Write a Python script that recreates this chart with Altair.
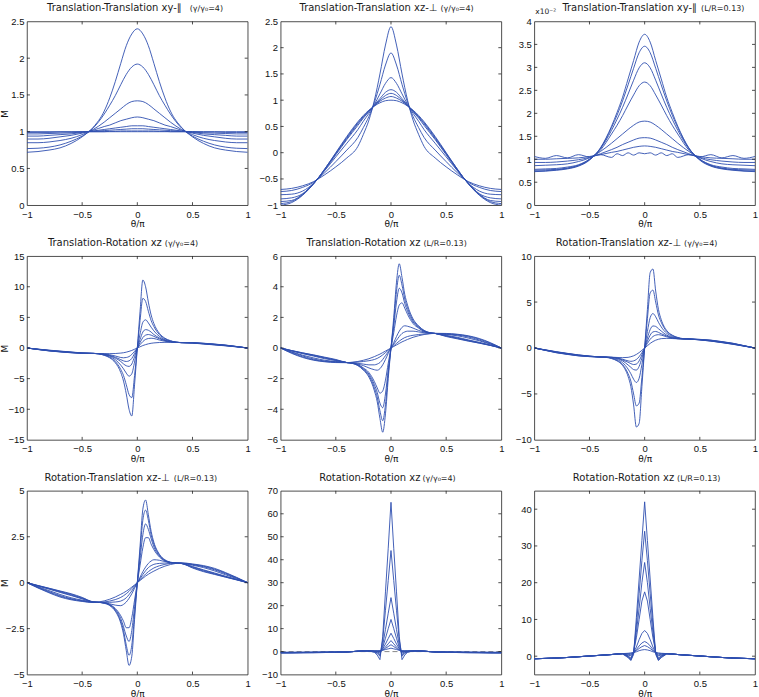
import altair as alt
import pandas as pd

BLUE = "#2f4fb0"
FRAME = "#222222"

# shared x grids (theta/pi)
XS = [-1, -0.9, -0.8, -0.7, -0.6, -0.5, -0.4, -0.3, -0.25, -0.2, -0.15, -0.1, -0.05, 0,
      0.05, 0.1, 0.15, 0.2, 0.25, 0.3, 0.4, 0.5, 0.6, 0.7, 0.8, 0.9, 1]
XF = [-1, -0.9, -0.8, -0.7, -0.6, -0.5, -0.4, -0.35, -0.3, -0.25, -0.2, -0.15, -0.125, -0.1,
      -0.075, -0.05, -0.025, 0, 0.025, 0.05, 0.075, 0.1, 0.125, 0.15, 0.2, 0.25, 0.3, 0.35,
      0.4, 0.5, 0.6, 0.7, 0.8, 0.9, 1]
X_TICKS = [-1, -0.5, 0, 0.5, 1]

# Panel 1: Translation-Translation xy-par (gamma)
P1 = [
    [0.72, 0.73, 0.75, 0.78, 0.84, 0.93, 1.06, 1.28, 1.46, 1.68, 1.93, 2.17, 2.33, 2.4, 2.33, 2.17, 1.93, 1.68, 1.46, 1.28, 1.06, 0.93, 0.84, 0.78, 0.75, 0.73, 0.72],
    [0.77, 0.775, 0.79, 0.82, 0.87, 0.94, 1.05, 1.24, 1.36, 1.49, 1.64, 1.78, 1.88, 1.92, 1.88, 1.78, 1.64, 1.49, 1.36, 1.24, 1.05, 0.94, 0.87, 0.82, 0.79, 0.775, 0.77],
    [0.85, 0.85, 0.86, 0.88, 0.91, 0.96, 1.03, 1.13, 1.19, 1.25, 1.31, 1.37, 1.41, 1.42, 1.41, 1.37, 1.31, 1.25, 1.19, 1.13, 1.03, 0.96, 0.91, 0.88, 0.86, 0.85, 0.85],
    [0.9, 0.9, 0.91, 0.93, 0.95, 0.98, 1.02, 1.07, 1.09, 1.12, 1.15, 1.17, 1.19, 1.2, 1.19, 1.17, 1.15, 1.12, 1.09, 1.07, 1.02, 0.98, 0.95, 0.93, 0.91, 0.9, 0.9],
    [0.94, 0.94, 0.95, 0.96, 0.97, 0.99, 1.01, 1.03, 1.04, 1.05, 1.06, 1.07, 1.08, 1.08, 1.08, 1.07, 1.06, 1.05, 1.04, 1.03, 1.01, 0.99, 0.97, 0.96, 0.95, 0.94, 0.94],
    [0.97, 0.97, 0.975, 0.98, 0.985, 0.995, 1.005, 1.015, 1.02, 1.025, 1.03, 1.035, 1.04, 1.04, 1.04, 1.035, 1.03, 1.025, 1.02, 1.015, 1.005, 0.995, 0.985, 0.98, 0.975, 0.97, 0.97],
    [0.99, 0.99, 0.99, 0.995, 0.995, 1.0, 1.0, 1.0, 1.005, 1.005, 1.01, 1.01, 1.01, 1.01, 1.01, 1.01, 1.01, 1.005, 1.005, 1.0, 1.0, 1.0, 0.995, 0.995, 0.99, 0.99, 0.99],
    [1.0, 1.0, 1.0, 1.0, 1.0, 1.0, 1.0, 1.0, 1.0, 1.0, 1.0, 1.0, 1.0, 1.0, 1.0, 1.0, 1.0, 1.0, 1.0, 1.0, 1.0, 1.0, 1.0, 1.0, 1.0, 1.0, 1.0],
]
P1_YTICKS = [0, 0.5, 1, 1.5, 2, 2.5]

# Panel 2: Translation-Translation xz-perp (gamma)
P2 = [
    [-0.7, -0.68, -0.63, -0.55, -0.42, -0.27, -0.1, 0.12, 0.35, 0.62, 1.0, 1.5, 2.05, 2.4, 2.05, 1.5, 1.0, 0.62, 0.35, 0.12, -0.1, -0.27, -0.42, -0.55, -0.63, -0.68, -0.7],
    [-0.74, -0.72, -0.66, -0.56, -0.38, -0.17, 0.05, 0.29, 0.48, 0.69, 0.96, 1.3, 1.67, 1.9, 1.67, 1.3, 0.96, 0.69, 0.48, 0.29, 0.05, -0.17, -0.38, -0.56, -0.66, -0.72, -0.74],
    [-0.8, -0.79, -0.73, -0.58, -0.34, -0.08, 0.18, 0.44, 0.6, 0.75, 0.92, 1.12, 1.32, 1.43, 1.32, 1.12, 0.92, 0.75, 0.6, 0.44, 0.18, -0.08, -0.34, -0.58, -0.73, -0.79, -0.8],
    [-0.88, -0.86, -0.78, -0.58, -0.33, -0.04, 0.25, 0.52, 0.66, 0.78, 0.91, 1.03, 1.15, 1.2, 1.15, 1.03, 0.91, 0.78, 0.66, 0.52, 0.25, -0.04, -0.33, -0.58, -0.78, -0.86, -0.88],
    [-0.93, -0.91, -0.79, -0.59, -0.32, -0.02, 0.27, 0.55, 0.68, 0.79, 0.9, 1.0, 1.09, 1.13, 1.09, 1.0, 0.9, 0.79, 0.68, 0.55, 0.27, -0.02, -0.32, -0.59, -0.79, -0.91, -0.93],
    [-0.97, -0.93, -0.8, -0.59, -0.31, -0.01, 0.29, 0.57, 0.69, 0.8, 0.89, 0.98, 1.04, 1.07, 1.04, 0.98, 0.89, 0.8, 0.69, 0.57, 0.29, -0.01, -0.31, -0.59, -0.8, -0.93, -0.97],
    [-1.0, -0.95, -0.81, -0.59, -0.31, 0.0, 0.31, 0.59, 0.71, 0.81, 0.89, 0.95, 0.99, 1.0, 0.99, 0.95, 0.89, 0.81, 0.71, 0.59, 0.31, 0.0, -0.31, -0.59, -0.81, -0.95, -1.0],
]
P2_YTICKS = [-1, -0.5, 0, 0.5, 1, 1.5, 2, 2.5]

# Panel 3: Translation-Translation xy-par (L/R), units of 1e-2
P3 = [
    [0.73, 0.74, 0.76, 0.79, 0.85, 0.98, 1.25, 1.72, 2.02, 2.35, 2.75, 3.15, 3.55, 3.72, 3.55, 3.15, 2.75, 2.35, 2.02, 1.72, 1.25, 0.98, 0.85, 0.79, 0.76, 0.74, 0.73],
    [0.74, 0.75, 0.77, 0.8, 0.86, 0.99, 1.24, 1.69, 1.96, 2.27, 2.62, 2.98, 3.32, 3.46, 3.32, 2.98, 2.62, 2.27, 1.96, 1.69, 1.24, 0.99, 0.86, 0.8, 0.77, 0.75, 0.74],
    [0.76, 0.77, 0.78, 0.81, 0.87, 1.0, 1.23, 1.63, 1.87, 2.13, 2.42, 2.72, 2.99, 3.1, 2.99, 2.72, 2.42, 2.13, 1.87, 1.63, 1.23, 1.0, 0.87, 0.81, 0.78, 0.77, 0.76],
    [0.78, 0.79, 0.8, 0.83, 0.88, 1.0, 1.2, 1.55, 1.74, 1.95, 2.18, 2.4, 2.6, 2.68, 2.6, 2.4, 2.18, 1.95, 1.74, 1.55, 1.2, 1.0, 0.88, 0.83, 0.8, 0.79, 0.78],
    [0.86, 0.87, 0.88, 0.9, 0.95, 1.03, 1.17, 1.35, 1.45, 1.55, 1.65, 1.74, 1.81, 1.83, 1.81, 1.74, 1.65, 1.55, 1.45, 1.35, 1.17, 1.03, 0.95, 0.9, 0.88, 0.87, 0.86],
    [0.93, 0.93, 0.94, 0.96, 0.99, 1.04, 1.12, 1.21, 1.26, 1.32, 1.37, 1.42, 1.46, 1.47, 1.46, 1.42, 1.37, 1.32, 1.26, 1.21, 1.12, 1.04, 0.99, 0.96, 0.94, 0.93, 0.93],
    [1.0, 1.0, 1.01, 1.02, 1.03, 1.06, 1.1, 1.15, 1.17, 1.2, 1.23, 1.26, 1.28, 1.29, 1.28, 1.26, 1.23, 1.2, 1.17, 1.15, 1.1, 1.06, 1.03, 1.02, 1.01, 1.0, 1.0],
    [1.06, 1.02, 1.08, 1.03, 1.1, 1.05, 1.1, 1.04, 1.12, 1.08, 1.14, 1.09, 1.14, 1.12, 1.14, 1.09, 1.14, 1.08, 1.12, 1.04, 1.1, 1.05, 1.1, 1.03, 1.08, 1.02, 1.06],
]
P3_YTICKS = [0, 0.5, 1, 1.5, 2, 2.5, 3, 3.5, 4]

# Panel 4: Translation-Rotation xz (gamma)
P4 = [
    [0, -0.18, -0.35, -0.5, -0.65, -0.8, -0.88, -0.95, -1.2, -1.6, -2.4, -4.0, -5.4, -7.5, -10.0, -11.1, -6.0, 0, 6.0, 11.1, 10.0, 7.5, 5.4, 4.0, 2.4, 1.6, 1.2, 0.95, 0.88, 0.8, 0.65, 0.5, 0.35, 0.18, 0],
    [0, -0.2, -0.38, -0.53, -0.68, -0.82, -0.88, -0.95, -1.15, -1.5, -2.2, -3.5, -4.5, -6.0, -7.6, -8.1, -4.5, 0, 4.5, 8.1, 7.6, 6.0, 4.5, 3.5, 2.2, 1.5, 1.15, 0.95, 0.88, 0.82, 0.68, 0.53, 0.38, 0.2, 0],
    [0, -0.21, -0.4, -0.56, -0.7, -0.83, -0.88, -0.95, -1.1, -1.35, -1.9, -2.8, -3.4, -4.1, -4.6, -4.2, -2.3, 0, 2.3, 4.2, 4.6, 4.1, 3.4, 2.8, 1.9, 1.35, 1.1, 0.95, 0.88, 0.83, 0.7, 0.56, 0.4, 0.21, 0],
    [0, -0.22, -0.42, -0.58, -0.72, -0.84, -0.88, -0.93, -1.05, -1.25, -1.65, -2.2, -2.6, -2.9, -3.0, -2.6, -1.4, 0, 1.4, 2.6, 3.0, 2.9, 2.6, 2.2, 1.65, 1.25, 1.05, 0.93, 0.88, 0.84, 0.72, 0.58, 0.42, 0.22, 0],
    [0, -0.23, -0.44, -0.6, -0.74, -0.85, -0.88, -0.92, -1.0, -1.2, -1.5, -1.9, -2.1, -2.2, -2.1, -1.7, -0.9, 0, 0.9, 1.7, 2.1, 2.2, 2.1, 1.9, 1.5, 1.2, 1.0, 0.92, 0.88, 0.85, 0.74, 0.6, 0.44, 0.23, 0],
    [0, -0.24, -0.46, -0.62, -0.76, -0.86, -0.88, -0.91, -0.97, -1.1, -1.3, -1.55, -1.6, -1.55, -1.4, -1.05, -0.55, 0, 0.55, 1.05, 1.4, 1.55, 1.6, 1.55, 1.3, 1.1, 0.97, 0.91, 0.88, 0.86, 0.76, 0.62, 0.46, 0.24, 0],
    [0, -0.25, -0.48, -0.64, -0.78, -0.88, -0.9, -0.91, -0.92, -0.92, -0.9, -0.83, -0.77, -0.68, -0.55, -0.4, -0.2, 0, 0.2, 0.4, 0.55, 0.68, 0.77, 0.83, 0.9, 0.92, 0.92, 0.91, 0.9, 0.88, 0.78, 0.64, 0.48, 0.25, 0],
]
P4_YTICKS = [-15, -10, -5, 0, 5, 10, 15]

# Panel 5: Translation-Rotation xz (L/R)
P5 = [
    [0, -0.17, -0.32, -0.45, -0.6, -0.75, -0.95, -1.0, -1.15, -1.45, -1.9, -2.8, -3.5, -4.6, -5.5, -4.3, -2.0, 0, 2.0, 4.3, 5.5, 4.6, 3.5, 2.8, 1.9, 1.45, 1.15, 1.0, 0.95, 0.75, 0.6, 0.45, 0.32, 0.17, 0],
    [0, -0.17, -0.32, -0.47, -0.63, -0.78, -0.95, -1.0, -1.13, -1.4, -1.8, -2.6, -3.2, -4.1, -4.75, -3.7, -1.7, 0, 1.7, 3.7, 4.75, 4.1, 3.2, 2.6, 1.8, 1.4, 1.13, 1.0, 0.95, 0.78, 0.63, 0.47, 0.32, 0.17, 0],
    [0, -0.18, -0.35, -0.5, -0.66, -0.8, -0.95, -1.0, -1.1, -1.35, -1.7, -2.4, -2.9, -3.6, -3.9, -3.0, -1.4, 0, 1.4, 3.0, 3.9, 3.6, 2.9, 2.4, 1.7, 1.35, 1.1, 1.0, 0.95, 0.8, 0.66, 0.5, 0.35, 0.18, 0],
    [0, -0.19, -0.37, -0.53, -0.7, -0.82, -0.95, -0.98, -1.08, -1.3, -1.6, -2.2, -2.6, -2.95, -2.8, -2.1, -1.0, 0, 1.0, 2.1, 2.8, 2.95, 2.6, 2.2, 1.6, 1.3, 1.08, 0.98, 0.95, 0.82, 0.7, 0.53, 0.37, 0.19, 0],
    [0, -0.25, -0.47, -0.65, -0.8, -0.88, -0.95, -0.98, -1.05, -1.15, -1.3, -1.42, -1.45, -1.35, -1.1, -0.75, -0.35, 0, 0.35, 0.75, 1.1, 1.35, 1.45, 1.42, 1.3, 1.15, 1.05, 0.98, 0.95, 0.88, 0.8, 0.65, 0.47, 0.25, 0],
    [0, -0.28, -0.52, -0.72, -0.85, -0.9, -0.95, -0.97, -1.0, -1.05, -1.1, -1.1, -1.05, -0.95, -0.75, -0.5, -0.25, 0, 0.25, 0.5, 0.75, 0.95, 1.05, 1.1, 1.1, 1.05, 1.0, 0.97, 0.95, 0.9, 0.85, 0.72, 0.52, 0.28, 0],
    [0, -0.32, -0.58, -0.77, -0.88, -0.93, -0.95, -0.94, -0.92, -0.88, -0.83, -0.75, -0.68, -0.58, -0.45, -0.3, -0.15, 0, 0.15, 0.3, 0.45, 0.58, 0.68, 0.75, 0.83, 0.88, 0.92, 0.94, 0.95, 0.93, 0.88, 0.77, 0.58, 0.32, 0],
    [0, -0.35, -0.62, -0.8, -0.9, -0.95, -0.96, -0.93, -0.88, -0.8, -0.7, -0.56, -0.48, -0.4, -0.3, -0.2, -0.1, 0, 0.1, 0.2, 0.3, 0.4, 0.48, 0.56, 0.7, 0.8, 0.88, 0.93, 0.96, 0.95, 0.9, 0.8, 0.62, 0.35, 0],
]
P5_YTICKS = [-6, -4, -2, 0, 2, 4, 6]

# Panel 6: Rotation-Translation xz-perp (gamma)
P6 = [
    [0, -0.2, -0.4, -0.58, -0.75, -0.88, -0.98, -1.02, -1.15, -1.4, -1.9, -3.1, -4.2, -6.2, -8.6, -8.2, -4.2, 0, 4.2, 8.2, 8.6, 6.2, 4.2, 3.1, 1.9, 1.4, 1.15, 1.02, 0.98, 0.88, 0.75, 0.58, 0.4, 0.2, 0],
    [0, -0.21, -0.42, -0.6, -0.76, -0.88, -0.98, -1.0, -1.12, -1.35, -1.8, -2.8, -3.6, -5.0, -6.3, -6.0, -3.2, 0, 3.2, 6.0, 6.3, 5.0, 3.6, 2.8, 1.8, 1.35, 1.12, 1.0, 0.98, 0.88, 0.76, 0.6, 0.42, 0.21, 0],
    [0, -0.22, -0.44, -0.62, -0.78, -0.9, -0.98, -1.0, -1.08, -1.25, -1.6, -2.3, -2.8, -3.4, -3.75, -3.3, -1.8, 0, 1.8, 3.3, 3.75, 3.4, 2.8, 2.3, 1.6, 1.25, 1.08, 1.0, 0.98, 0.9, 0.78, 0.62, 0.44, 0.22, 0],
    [0, -0.23, -0.46, -0.64, -0.8, -0.91, -0.98, -0.99, -1.04, -1.15, -1.4, -1.85, -2.1, -2.35, -2.4, -2.0, -1.1, 0, 1.1, 2.0, 2.4, 2.35, 2.1, 1.85, 1.4, 1.15, 1.04, 0.99, 0.98, 0.91, 0.8, 0.64, 0.46, 0.23, 0],
    [0, -0.24, -0.48, -0.66, -0.82, -0.92, -0.98, -0.99, -1.02, -1.1, -1.3, -1.55, -1.7, -1.8, -1.75, -1.4, -0.75, 0, 0.75, 1.4, 1.75, 1.8, 1.7, 1.55, 1.3, 1.1, 1.02, 0.99, 0.98, 0.92, 0.82, 0.66, 0.48, 0.24, 0],
    [0, -0.25, -0.5, -0.68, -0.84, -0.93, -0.98, -0.99, -1.01, -1.08, -1.22, -1.4, -1.45, -1.4, -1.25, -0.95, -0.5, 0, 0.5, 0.95, 1.25, 1.4, 1.45, 1.4, 1.22, 1.08, 1.01, 0.99, 0.98, 0.93, 0.84, 0.68, 0.5, 0.25, 0],
    [0, -0.26, -0.52, -0.7, -0.86, -0.94, -0.98, -0.99, -1.0, -1.03, -1.05, -1.02, -0.95, -0.85, -0.7, -0.5, -0.25, 0, 0.25, 0.5, 0.7, 0.85, 0.95, 1.02, 1.05, 1.03, 1.0, 0.99, 0.98, 0.94, 0.86, 0.7, 0.52, 0.26, 0],
]
P6_YTICKS = [-10, -5, 0, 5, 10]

# Panel 7: Rotation-Translation xz-perp (L/R)
P7 = [
    [0, -0.15, -0.3, -0.45, -0.6, -0.8, -1.05, -1.07, -1.12, -1.25, -1.55, -2.2, -2.8, -3.7, -4.5, -4.0, -2.0, 0, 2.0, 4.0, 4.5, 3.7, 2.8, 2.2, 1.55, 1.25, 1.12, 1.07, 1.05, 0.8, 0.6, 0.45, 0.3, 0.15, 0],
    [0, -0.16, -0.31, -0.47, -0.63, -0.83, -1.04, -1.07, -1.1, -1.22, -1.5, -2.1, -2.6, -3.4, -3.95, -3.4, -1.7, 0, 1.7, 3.4, 3.95, 3.4, 2.6, 2.1, 1.5, 1.22, 1.1, 1.07, 1.04, 0.83, 0.63, 0.47, 0.31, 0.16, 0],
    [0, -0.17, -0.33, -0.5, -0.67, -0.86, -1.05, -1.07, -1.1, -1.2, -1.45, -1.95, -2.4, -2.9, -3.2, -2.6, -1.3, 0, 1.3, 2.6, 3.2, 2.9, 2.4, 1.95, 1.45, 1.2, 1.1, 1.07, 1.05, 0.86, 0.67, 0.5, 0.33, 0.17, 0],
    [0, -0.18, -0.35, -0.53, -0.7, -0.88, -1.05, -1.07, -1.09, -1.18, -1.4, -1.8, -2.1, -2.45, -2.45, -1.9, -0.95, 0, 0.95, 1.9, 2.45, 2.45, 2.1, 1.8, 1.4, 1.18, 1.09, 1.07, 1.05, 0.88, 0.7, 0.53, 0.35, 0.18, 0],
    [0, -0.22, -0.43, -0.64, -0.82, -0.95, -1.05, -1.07, -1.1, -1.15, -1.22, -1.25, -1.18, -1.05, -0.85, -0.6, -0.3, 0, 0.3, 0.6, 0.85, 1.05, 1.18, 1.25, 1.22, 1.15, 1.1, 1.07, 1.05, 0.95, 0.82, 0.64, 0.43, 0.22, 0],
    [0, -0.25, -0.48, -0.7, -0.87, -0.98, -1.06, -1.07, -1.07, -1.07, -1.05, -1.0, -0.93, -0.82, -0.65, -0.45, -0.22, 0, 0.22, 0.45, 0.65, 0.82, 0.93, 1.0, 1.05, 1.07, 1.07, 1.07, 1.06, 0.98, 0.87, 0.7, 0.48, 0.25, 0],
    [0, -0.27, -0.52, -0.74, -0.9, -1.0, -1.07, -1.07, -1.05, -1.0, -0.92, -0.8, -0.71, -0.6, -0.47, -0.32, -0.16, 0, 0.16, 0.32, 0.47, 0.6, 0.71, 0.8, 0.92, 1.0, 1.05, 1.07, 1.07, 1.0, 0.9, 0.74, 0.52, 0.27, 0],
    [0, -0.29, -0.55, -0.78, -0.93, -1.02, -1.08, -1.05, -0.99, -0.9, -0.78, -0.63, -0.55, -0.46, -0.36, -0.24, -0.12, 0, 0.12, 0.24, 0.36, 0.46, 0.55, 0.63, 0.78, 0.9, 0.99, 1.05, 1.08, 1.02, 0.93, 0.78, 0.55, 0.29, 0],
]
P7_YTICKS = [-5, -2.5, 0, 2.5, 5]

# Panel 8: Rotation-Rotation xz (gamma)
P8 = [
    [-0.6, -0.6, -0.5, -0.5, -0.4, -0.3, -0.2, 0.0, 0.2, 0.4, 0.3, -0.3, -1.5, -3.5, 6.5, 26, 45, 65, 45, 26, 6.5, -3.5, -1.5, -0.3, 0.3, 0.4, 0.2, 0.0, -0.2, -0.3, -0.4, -0.5, -0.5, -0.6, -0.6],
    [-0.6, -0.55, -0.5, -0.45, -0.4, -0.3, -0.2, 0.0, 0.2, 0.35, 0.3, -0.2, -0.8, -2.0, 5, 18, 31, 44, 31, 18, 5, -2.0, -0.8, -0.2, 0.3, 0.35, 0.2, 0.0, -0.2, -0.3, -0.4, -0.45, -0.5, -0.55, -0.6],
    [-0.5, -0.5, -0.45, -0.4, -0.35, -0.3, -0.2, 0.0, 0.2, 0.3, 0.3, 0.0, -0.5, -1.3, 2.8, 9.6, 16.7, 23.5, 16.7, 9.6, 2.8, -1.3, -0.5, 0.0, 0.3, 0.3, 0.2, 0.0, -0.2, -0.3, -0.35, -0.4, -0.45, -0.5, -0.5],
    [-0.45, -0.45, -0.4, -0.35, -0.3, -0.25, -0.15, 0.0, 0.2, 0.3, 0.3, 0.1, -0.2, -0.6, 1.8, 5.8, 10, 14, 10, 5.8, 1.8, -0.6, -0.2, 0.1, 0.3, 0.3, 0.2, 0.0, -0.15, -0.25, -0.3, -0.35, -0.4, -0.45, -0.45],
    [-0.4, -0.4, -0.35, -0.3, -0.25, -0.2, -0.1, 0.0, 0.15, 0.25, 0.3, 0.2, 0.1, 0.0, 1.2, 3.3, 5.7, 8, 5.7, 3.3, 1.2, 0.0, 0.1, 0.2, 0.3, 0.25, 0.15, 0.0, -0.1, -0.2, -0.25, -0.3, -0.35, -0.4, -0.4],
    [-0.4, -0.35, -0.35, -0.3, -0.25, -0.2, -0.1, 0.0, 0.15, 0.25, 0.3, 0.25, 0.2, 0.2, 0.8, 2.0, 3.4, 4.8, 3.4, 2.0, 0.8, 0.2, 0.2, 0.25, 0.3, 0.25, 0.15, 0.0, -0.1, -0.2, -0.25, -0.3, -0.35, -0.35, -0.4],
    [-0.35, -0.35, -0.3, -0.3, -0.25, -0.2, -0.1, 0.0, 0.15, 0.25, 0.3, 0.3, 0.3, 0.3, 0.6, 1.4, 2.2, 3, 2.2, 1.4, 0.6, 0.3, 0.3, 0.3, 0.3, 0.25, 0.15, 0.0, -0.1, -0.2, -0.25, -0.3, -0.3, -0.35, -0.35],
    [-0.3, -0.3, -0.3, -0.3, -0.25, -0.2, -0.1, 0.0, 0.15, 0.25, 0.3, 0.3, 0.35, 0.4, 0.6, 0.9, 1.2, 1.5, 1.2, 0.9, 0.6, 0.4, 0.35, 0.3, 0.3, 0.25, 0.15, 0.0, -0.1, -0.2, -0.25, -0.3, -0.3, -0.3, -0.3],
]
P8_YTICKS = [-10, 0, 10, 20, 30, 40, 50, 60, 70]
P8_REF = [0]

# Panel 9: Rotation-Rotation xz (L/R)
P9 = [
    [-0.7, -0.6, -0.5, -0.35, -0.15, 0.05, 0.25, 0.35, 0.45, 0.55, 0.6, -0.4, -1.2, 0.5, 10.5, 21, 31.5, 42, 31.5, 21, 10.5, 0.5, -1.2, -0.4, 0.6, 0.55, 0.45, 0.35, 0.25, 0.05, -0.15, -0.35, -0.5, -0.6, -0.7],
    [-0.7, -0.6, -0.5, -0.35, -0.15, 0.05, 0.25, 0.35, 0.45, 0.55, 0.65, -0.2, -1.0, 0.8, 8.5, 17, 26, 34, 26, 17, 8.5, 0.8, -1.0, -0.2, 0.65, 0.55, 0.45, 0.35, 0.25, 0.05, -0.15, -0.35, -0.5, -0.6, -0.7],
    [-0.7, -0.6, -0.5, -0.35, -0.15, 0.05, 0.25, 0.35, 0.45, 0.6, 0.7, 0.0, -0.8, 1.0, 6.5, 13, 20, 25.5, 20, 13, 6.5, 1.0, -0.8, 0.0, 0.7, 0.6, 0.45, 0.35, 0.25, 0.05, -0.15, -0.35, -0.5, -0.6, -0.7],
    [-0.7, -0.6, -0.5, -0.35, -0.15, 0.05, 0.25, 0.35, 0.45, 0.6, 0.7, 0.1, -0.5, 1.2, 5, 10, 15, 17.5, 15, 10, 5, 1.2, -0.5, 0.1, 0.7, 0.6, 0.45, 0.35, 0.25, 0.05, -0.15, -0.35, -0.5, -0.6, -0.7],
    [-0.7, -0.6, -0.5, -0.35, -0.15, 0.05, 0.25, 0.35, 0.45, 0.6, 0.7, 0.3, 0.1, 1.0, 2.5, 4.5, 6.2, 7, 6.2, 4.5, 2.5, 1.0, 0.1, 0.3, 0.7, 0.6, 0.45, 0.35, 0.25, 0.05, -0.15, -0.35, -0.5, -0.6, -0.7],
    [-0.7, -0.6, -0.5, -0.35, -0.15, 0.05, 0.25, 0.35, 0.45, 0.6, 0.7, 0.5, 0.4, 1.0, 1.8, 2.8, 3.6, 4, 3.6, 2.8, 1.8, 1.0, 0.4, 0.5, 0.7, 0.6, 0.45, 0.35, 0.25, 0.05, -0.15, -0.35, -0.5, -0.6, -0.7],
    [-0.7, -0.6, -0.5, -0.35, -0.15, 0.05, 0.25, 0.35, 0.45, 0.6, 0.7, 0.7, 0.7, 1.0, 1.5, 2.1, 2.6, 2.9, 2.6, 2.1, 1.5, 1.0, 0.7, 0.7, 0.7, 0.6, 0.45, 0.35, 0.25, 0.05, -0.15, -0.35, -0.5, -0.6, -0.7],
    [-0.7, -0.6, -0.5, -0.35, -0.15, 0.05, 0.25, 0.35, 0.45, 0.6, 0.7, 0.8, 0.9, 1.0, 1.2, 1.5, 1.7, 1.8, 1.7, 1.5, 1.2, 1.0, 0.9, 0.8, 0.7, 0.6, 0.45, 0.35, 0.25, 0.05, -0.15, -0.35, -0.5, -0.6, -0.7],
]
P9_YTICKS = [0, 10, 20, 30, 40]

TITLES = [
    ("Translation-Translation xy-∥", "(γ/γ₀=4)"),
    ("Translation-Translation xz-⊥", "(γ/γ₀=4)"),
    ("Translation-Translation xy-∥", "(L/R=0.13)"),
    ("Translation-Rotation xz", "(γ/γ₀=4)"),
    ("Translation-Rotation xz", "(L/R=0.13)"),
    ("Rotation-Translation xz-⊥", "(γ/γ₀=4)"),
    ("Rotation-Translation xz-⊥", "(L/R=0.13)"),
    ("Rotation-Rotation xz", "(γ/γ₀=4)"),
    ("Rotation-Rotation xz", "(L/R=0.13)"),
]
EXPONENT_LABEL = "x10⁻²"

W, H = 221, 184
FMT = ".2~f"


def make_panel(xgrid, curves, ydom, yticks, title, main_end, param_start,
               ytitle=None, interp="monotone", prefix=None, ref=None):
    rows = []
    for i, c in enumerate(curves):
        if len(c) != len(xgrid):
            raise ValueError(f"{title[0]} curve {i}: {len(c)} vs {len(xgrid)}")
        for xv, yv in zip(xgrid, c):
            rows.append({"x": xv, "y": yv, "c": i})
    df = pd.DataFrame(rows)
    xsc = alt.Scale(domain=[-1, 1], nice=False, zero=False)
    ysc = alt.Scale(domain=ydom, nice=False, zero=False)
    xax = alt.Axis(values=X_TICKS, title="θ/π", format=FMT)
    if ytitle:
        yax = alt.Axis(values=yticks, title=ytitle, format=FMT, titleX=-17)
    else:
        yax = alt.Axis(values=yticks, title=None, format=FMT)
    X = alt.X("x:Q", scale=xsc, axis=xax)
    Y = alt.Y("y:Q", scale=ysc, axis=yax)

    layers = []
    if ref is not None:
        layers.append(
            alt.Chart(pd.DataFrame({"y": ref})).mark_rule(
                color="#888888", strokeDash=[5, 3], strokeWidth=1
            ).encode(y=Y)
        )
    layers.append(
        alt.Chart(df).mark_line(color=BLUE, strokeWidth=0.9, interpolate=interp, clip=True)
        .encode(x=X, y=Y, detail="c:N")
    )
    xt = pd.DataFrame({"x": X_TICKS[1:-1]})
    yt = pd.DataFrame({"y": [v for v in yticks if ydom[0] < v < ydom[1]]})
    tick = dict(color=FRAME, strokeWidth=0.8)
    layers += [
        alt.Chart(xt).mark_rule(**tick).encode(x=X, y=alt.value(H), y2=alt.value(H - 3)),
        alt.Chart(xt).mark_rule(**tick).encode(x=X, y=alt.value(0), y2=alt.value(3)),
        alt.Chart(yt).mark_rule(**tick).encode(y=Y, x=alt.value(0), x2=alt.value(3)),
        alt.Chart(yt).mark_rule(**tick).encode(y=Y, x=alt.value(W - 3), x2=alt.value(W)),
    ]
    layers.append(
        alt.Chart(pd.DataFrame({"t": [title[0]]})).mark_text(
            align="right", baseline="alphabetic", font="DejaVu Sans", fontSize=10, color="#1a1a1a"
        ).encode(x=alt.value(main_end), y=alt.value(-10), text="t:N")
    )
    layers.append(
        alt.Chart(pd.DataFrame({"t": [title[1]]})).mark_text(
            align="left", baseline="alphabetic", font="DejaVu Sans", fontSize=8, color="#1a1a1a"
        ).encode(x=alt.value(param_start), y=alt.value(-10), text="t:N")
    )
    if prefix:
        layers.append(
            alt.Chart(pd.DataFrame({"t": [prefix]})).mark_text(
                align="left", baseline="alphabetic", font="DejaVu Sans", fontSize=7.5, color="#1a1a1a"
            ).encode(x=alt.value(1), y=alt.value(-7), text="t:N")
        )
    return alt.layer(*layers).properties(width=W, height=H)


p1 = make_panel(XS, P1, [0, 2.5], P1_YTICKS, TITLES[0], 155, 163, ytitle="M")
p2 = make_panel(XS, P2, [-1, 2.5], P2_YTICKS, TITLES[1], 157, 160)
p3 = make_panel(XS, P3, [0, 4], P3_YTICKS, TITLES[2], 163, 167, prefix=EXPONENT_LABEL)
p4 = make_panel(XF, P4, [-15, 15], P4_YTICKS, TITLES[3], 135, 138, ytitle="M")
p5 = make_panel(XF, P5, [-6, 6], P5_YTICKS, TITLES[4], 140, 143)
p6 = make_panel(XF, P6, [-10, 10], P6_YTICKS, TITLES[5], 147, 150)
p7 = make_panel(XF, P7, [-5, 5], P7_YTICKS, TITLES[6], 143, 147, ytitle="M")
p8 = make_panel(XF, P8, [-10, 70], P8_YTICKS, TITLES[7], 140, 142, interp="linear", ref=P8_REF)
p9 = make_panel(XF, P9, [-5, 45], P9_YTICKS, TITLES[8], 140, 143, interp="linear")

chart = (
    alt.concat(p1, p2, p3, p4, p5, p6, p7, p8, p9, columns=3,
               spacing={"row": 51, "column": 33}, bounds="flush")
    .properties(padding={"left": 0, "top": 2, "right": 0, "bottom": 2})
    .configure_view(stroke=FRAME, strokeWidth=0.8)
    .configure_axis(
        labelFont="Liberation Sans", labelFontSize=9.5, labelColor="#111111",
        ticks=False, domain=False, grid=False, labelFlush=False, labelOverlap=False,
        labelPadding=4, titleFont="DejaVu Sans", titleFontSize=9, titleFontWeight="normal",
        titleColor="#111111", titlePadding=1,
    )
    .configure_axisY(labelPadding=3)
)

chart.save("out.html", embed_options={"renderer": "svg", "actions": False})
